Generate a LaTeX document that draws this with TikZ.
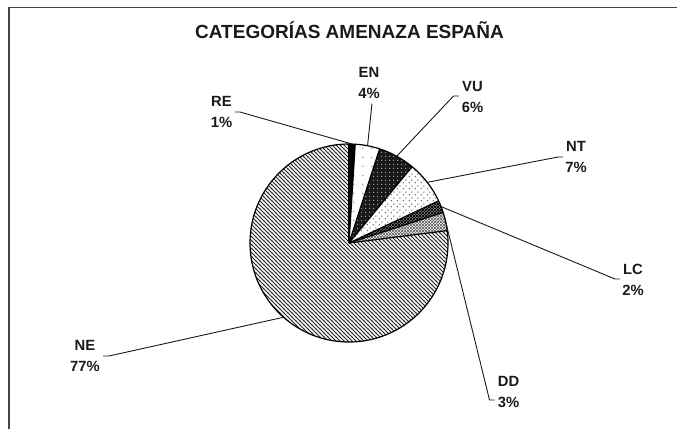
\documentclass[tikz,border=0pt]{standalone}
\usepackage{fontspec}
\setmainfont{Liberation Sans}
\usetikzlibrary{patterns,calc}

\pgfdeclarepatternformonly{endots}{\pgfqpoint{0pt}{0pt}}{\pgfqpoint{9pt}{9pt}}{\pgfqpoint{9pt}{9pt}}%
{\pgfpathcircle{\pgfqpoint{3pt}{3pt}}{0.8pt}\pgfusepath{fill}}
\pgfdeclarepatternformonly{stagdots}{\pgfqpoint{0pt}{0pt}}{\pgfqpoint{6pt}{6pt}}{\pgfqpoint{6pt}{6pt}}%
{\pgfpathcircle{\pgfqpoint{1.5pt}{1.5pt}}{0.85pt}\pgfpathcircle{\pgfqpoint{4.5pt}{4.5pt}}{0.85pt}\pgfusepath{fill}}
\pgfdeclarepatternformonly{vudots}{\pgfqpoint{0pt}{0pt}}{\pgfqpoint{4pt}{4pt}}{\pgfqpoint{4pt}{4pt}}%
{\pgfpathcircle{\pgfqpoint{2pt}{2pt}}{0.85pt}\pgfusepath{fill}}
\pgfdeclarepatternformonly{nwhatch}{\pgfqpoint{-1pt}{-1pt}}{\pgfqpoint{5pt}{5pt}}{\pgfqpoint{4pt}{4pt}}%
{\pgfsetlinewidth{1pt}\pgfpathmoveto{\pgfqpoint{-0.5pt}{4.5pt}}\pgfpathlineto{\pgfqpoint{4.5pt}{-0.5pt}}\pgfusepath{stroke}}
\pgfdeclarepatternformonly{xhatch}{\pgfqpoint{-1pt}{-1pt}}{\pgfqpoint{4pt}{4pt}}{\pgfqpoint{3pt}{3pt}}%
{\pgfsetlinewidth{0.6pt}\pgfpathmoveto{\pgfqpoint{-0.5pt}{3.5pt}}\pgfpathlineto{\pgfqpoint{3.5pt}{-0.5pt}}%
\pgfpathmoveto{\pgfqpoint{-0.5pt}{-0.5pt}}\pgfpathlineto{\pgfqpoint{3.5pt}{3.5pt}}\pgfusepath{stroke}}

\definecolor{txt}{HTML}{1A1A1A}
\definecolor{framecol}{HTML}{444444}

\tikzset{
  lab/.style={font=\bfseries\fontsize{14.8}{21}\selectfont, align=center, text=txt, inner sep=0pt},
  ttl/.style={font=\bfseries\fontsize{19}{22}\selectfont, text=txt, inner sep=0pt},
  leader/.style={draw=black!90, line width=0.9pt},
  pieline/.style={draw=black, line width=1.2pt},
}

\begin{document}
\begin{tikzpicture}[x=1pt,y=-1pt]
\useasboundingbox (0,0) rectangle (677,429);
\draw[framecol, line width=1.3pt] (9,429) -- (9,7.5) -- (677,7.5);

\node[ttl, anchor=base] (title) at (349.5,38.5) {CATEGORÍAS AMENAZA ESPAÑA};

\coordinate (c) at (349,243);
\def\R{99pt}

% slices
\path[fill=white, postaction={pattern=nwhatch, pattern color=black!85}]
  (c) -- ++(7.2:\R) arc[start angle=7.2, end angle=-270, radius=\R] -- cycle;
\path[fill=white, postaction={pattern=xhatch, pattern color=black!60}]
  (c) -- ++(18:\R) arc[start angle=18, end angle=7.2, radius=\R] -- cycle;
\path[fill=black!45, postaction={pattern=xhatch, pattern color=black}]
  (c) -- ++(25.2:\R) arc[start angle=25.2, end angle=18, radius=\R] -- cycle;
\path[fill=white, postaction={pattern=stagdots, pattern color=black!65}]
  (c) -- ++(50.4:\R) arc[start angle=50.4, end angle=25.2, radius=\R] -- cycle;
\path[fill=black!90, postaction={pattern=vudots, pattern color=black!35}]
  (c) -- ++(72:\R) arc[start angle=72, end angle=50.4, radius=\R] -- cycle;
\path[fill=white, postaction={pattern=endots, pattern color=black!55}]
  (c) -- ++(86.4:\R) arc[start angle=86.4, end angle=72, radius=\R] -- cycle;
\path[fill=black]
  (c) -- ++(90:\R) arc[start angle=90, end angle=86.4, radius=\R] -- cycle;

% outlines
\foreach \a in {90,86.4,72,50.4,25.2,18,7.2} {\draw[pieline] (c) -- ++(\a:\R);}
\draw[pieline] (c) circle[radius=\R];

% edge points
\coordinate (eRE) at ($(c)+(88.2:\R)$);
\coordinate (eEN) at ($(c)+(79.2:\R)$);
\coordinate (eVU) at ($(c)+(61.2:\R)$);
\coordinate (eNT) at ($(c)+(37.8:\R)$);
\coordinate (eLC) at ($(c)+(21.6:\R)$);
\coordinate (eDD) at ($(c)+(12.6:\R)$);
\coordinate (eNE) at ($(c)+(-131.4:\R)$);

% labels
\node[lab] (lRE) at (221.5,112) {RE\\1\%};
\node[lab] (lEN) at (369,82.5) {EN\\4\%};
\node[lab] (lVU) at (472.5,97) {VU\\6\%};
\node[lab] (lNT) at (576,156.5) {NT\\7\%};
\node[lab] (lLC) at (633,279.5) {LC\\2\%};
\node[lab] (lDD) at (508.5,392) {DD\\3\%};
\node[lab] (lNE) at (85,356) {NE\\77\%};

% leader elbows
\coordinate (kRE1) at (235,112); \coordinate (kRE2) at (240,112);
\coordinate (kEN1) at (372,103.5);
\coordinate (kVU1) at (453.5,96); \coordinate (kVU2) at (459,96);
\coordinate (kNT1) at (558,157); \coordinate (kNT2) at (563,157);
\coordinate (kLC1) at (615,279); \coordinate (kLC2) at (620,279);
\coordinate (kDD1) at (489.5,400); \coordinate (kDD2) at (494.5,400);
\coordinate (kNE1) at (103,356); \coordinate (kNE2) at (109,356);

\draw[leader] (kRE1) -- (kRE2) -- (eRE);
\draw[leader] (kEN1) -- (eEN);
\draw[leader] (kVU2) -- (kVU1) -- (eVU);
\draw[leader] (kNT2) -- (kNT1) -- (eNT);
\draw[leader] (kLC2) -- (kLC1) -- (eLC);
\draw[leader] (kDD2) -- (kDD1) -- (eDD);
\draw[leader] (kNE1) -- (kNE2) -- (eNE);
\end{tikzpicture}
\end{document}
